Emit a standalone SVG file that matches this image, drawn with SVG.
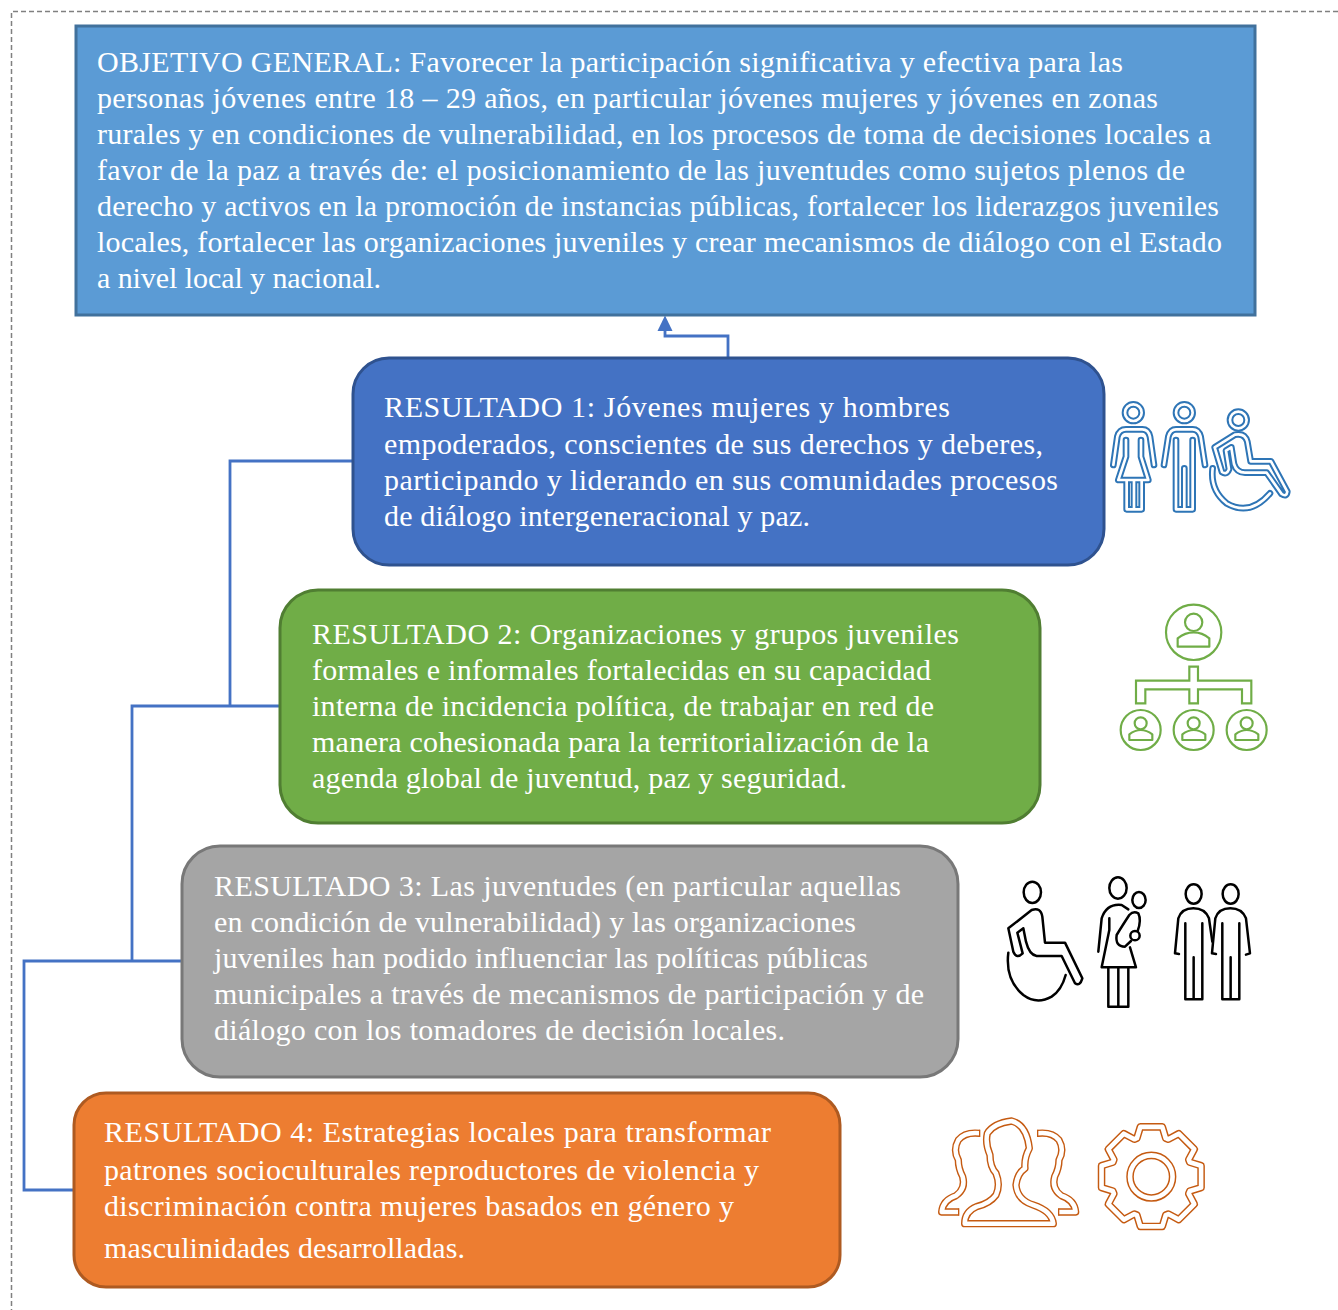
<svg xmlns="http://www.w3.org/2000/svg" width="1338" height="1310" viewBox="0 0 1338 1310">
<style>
.t{font-family:"Liberation Serif","Times New Roman",serif;font-size:30px;fill:#fff}
.box{stroke-width:3}
.conn{fill:none;stroke:#4472c4;stroke-width:2.8}
.i{fill:none;stroke-linecap:round;stroke-linejoin:round}
.bl .o{stroke:#2e75b6;stroke-width:20}
.bl .w{stroke:#fff;stroke-width:8}
.gr{stroke:#70ad47;stroke-width:6.5}
.bk{stroke:#000;stroke-width:7.5}
.or .o{stroke:#c55a11;stroke-width:22}
.or .w{stroke:#fff;stroke-width:13.5}
</style>
<defs>
<path id="woman" d="M70,225 L82,140 Q88,118 108,118 H157 Q175,118 180,140 L192,225 M108,150 V200 L85,270 H175 L153,200 V150 M110,270 V358 H155 V270 M132,270 V358"/>
<path id="man" d="M222,225 L235,140 Q241,118 258,118 H308 Q326,118 332,140 L345,225 M258,150 V358 H308 V150 M283,358 V235"/>
<path id="chair" d="M396,246 L374,172 L435,134 Q465,128 472,155 L482,214 H543 L592,305 Q590,322 575,312 L530,248 H465 Q440,248 432,222 L424,172 L408,182 L417,238 Q410,256 396,246 Z M368,235 Q360,300 410,340 Q480,380 540,310"/>
<path id="pC" d="M104,356 H370 Q365,318 310,300 Q262,285 258,240 Q262,205 285,190 Q282,160 298,130 Q290,60 245,48 Q190,55 172,85 Q165,115 180,150 Q180,185 198,205 Q212,240 198,270 Q180,295 140,305 Q104,320 104,356 Z"/>
<path id="pS" d="M149,85 Q105,80 85,105 Q68,135 85,165 Q85,190 98,215 Q108,250 78,272 Q38,285 35,321 H86"/>
<path id="gear" d="M-42,-112 L-32,-145 L32,-145 L42,-112 L49.5,-108.9 L79.9,-125.2 L125.2,-79.9 L108.9,-49.5 L112,-42 L145,-32 L145,32 L112,42 L108.9,49.5 L125.2,79.9 L79.9,125.2 L49.5,108.9 L42,112 L32,145 L-32,145 L-42,112 L-49.5,108.9 L-79.9,125.2 L-125.2,79.9 L-108.9,49.5 L-112,42 L-145,32 L-145,-32 L-112,-42 L-108.9,-49.5 L-125.2,-79.9 L-79.9,-125.2 L-49.5,-108.9 Z"/>
</defs>

<path d="M1338,11.5 H11.5 V1310" fill="none" stroke="#808080" stroke-width="1.5" stroke-dasharray="5 3"/>

<g id="connectors">
<path class="conn" d="M728,357 V336 H665 V328"/>
<path d="M665,315.5 L672.5,331 H657.5 Z" fill="#4472c4"/>
<path class="conn" d="M352,461 H230 V706"/>
<path class="conn" d="M279,706 H132 V961"/>
<path class="conn" d="M182,961 H24 V1190 H73"/>
</g>

<g id="objetivo">
<rect class="box" x="76" y="26" width="1179" height="289" fill="#5b9bd5" stroke="#41719c"/>
<text class="t" x="97" y="72" textLength="1026">OBJETIVO GENERAL: Favorecer la participación significativa y efectiva para las</text>
<text class="t" x="97" y="108" textLength="1061">personas jóvenes entre 18 – 29 años, en particular jóvenes mujeres y jóvenes en zonas</text>
<text class="t" x="97" y="144" textLength="1114">rurales y en condiciones de vulnerabilidad, en los procesos de toma de decisiones locales a</text>
<text class="t" x="97" y="180" textLength="1088">favor de la paz a través de: el posicionamiento de las juventudes como sujetos plenos de</text>
<text class="t" x="97" y="216" textLength="1122">derecho y activos en la promoción de instancias públicas, fortalecer los liderazgos juveniles</text>
<text class="t" x="97" y="252" textLength="1125">locales, fortalecer las organizaciones juveniles y crear mecanismos de diálogo con el Estado</text>
<text class="t" x="97" y="288" textLength="284">a nivel local y nacional.</text>
</g>

<g id="resultado1">
<rect class="box" x="353" y="358" width="751" height="207" rx="36" fill="#4472c4" stroke="#2f528f"/>
<text class="t" x="384" y="417" textLength="566">RESULTADO 1: Jóvenes mujeres y hombres</text>
<text class="t" x="384" y="454" textLength="659">empoderados, conscientes de sus derechos y deberes,</text>
<text class="t" x="384" y="490" textLength="674">participando y liderando en sus comunidades procesos</text>
<text class="t" x="384" y="526" textLength="426">de diálogo intergeneracional y paz.</text>
</g>

<g id="resultado2">
<rect class="box" x="280" y="590" width="760" height="233" rx="38" fill="#70ad47" stroke="#507e32"/>
<text class="t" x="312" y="644" textLength="647">RESULTADO 2: Organizaciones y grupos juveniles</text>
<text class="t" x="312" y="680" textLength="619">formales e informales fortalecidas en su capacidad</text>
<text class="t" x="312" y="716" textLength="622">interna de incidencia política, de trabajar en red de</text>
<text class="t" x="312" y="752" textLength="617">manera cohesionada para la territorialización de la</text>
<text class="t" x="312" y="788" textLength="535">agenda global de juventud, paz y seguridad.</text>
</g>

<g id="resultado3">
<rect class="box" x="182" y="846" width="776" height="231" rx="38" fill="#a5a5a5" stroke="#787878"/>
<text class="t" x="214" y="896" textLength="687">RESULTADO 3: Las juventudes (en particular aquellas</text>
<text class="t" x="214" y="932" textLength="642">en condición de vulnerabilidad) y las organizaciones</text>
<text class="t" x="214" y="968" textLength="654">juveniles han podido influenciar las políticas públicas</text>
<text class="t" x="214" y="1004" textLength="710">municipales a través de mecanismos de participación y de</text>
<text class="t" x="214" y="1040" textLength="571">diálogo con los tomadores de decisión locales.</text>
</g>

<g id="resultado4">
<rect class="box" x="74" y="1093" width="766" height="194" rx="32" fill="#ed7d31" stroke="#ae5a21"/>
<text class="t" x="104" y="1142" textLength="667">RESULTADO 4: Estrategias locales para transformar</text>
<text class="t" x="104" y="1180" textLength="655">patrones socioculturales reproductores de violencia y</text>
<text class="t" x="104" y="1216" textLength="630">discriminación contra mujeres basados en género y</text>
<text class="t" x="104" y="1258" textLength="361">masculinidades desarrolladas.</text>
</g>

<g id="icono1" class="i bl" transform="translate(1090,390) scale(.3333)">
<circle class="o" cx="130" cy="68" r="25"/><circle class="w" cx="130" cy="68" r="25"/>
<circle class="o" cx="283" cy="68" r="25"/><circle class="w" cx="283" cy="68" r="25"/>
<circle class="o" cx="445" cy="90" r="25"/><circle class="w" cx="445" cy="90" r="25"/>
<use class="o" href="#woman"/><use class="w" href="#woman"/>
<use class="o" href="#man"/><use class="w" href="#man"/>
<use class="o" href="#chair"/><use class="w" href="#chair"/>
</g>

<g id="icono2" class="i gr" transform="translate(1110,595) scale(.3333)">
<circle cx="251" cy="112" r="83"/>
<circle cx="251" cy="82" r="26"/>
<path d="M203,155 V130 Q225,112 251,112 Q277,112 298,130 V155 Z"/>
<path stroke-linejoin="miter" d="M238,215 H264 V257 H424 V325 H396 V283 H264 V325 H238 V283 H106 V325 H78 V257 H238 Z"/>
<circle cx="92" cy="405" r="60"/><circle cx="251" cy="405" r="60"/><circle cx="410" cy="405" r="60"/>
<circle cx="92" cy="385" r="18"/><circle cx="251" cy="385" r="18"/><circle cx="410" cy="385" r="18"/>
<path d="M58,435 V418 Q75,405 92,405 Q110,405 127,418 V435 Z"/>
<path d="M217,435 V418 Q234,405 251,405 Q269,405 286,418 V435 Z"/>
<path d="M376,435 V418 Q393,405 410,405 Q428,405 445,418 V435 Z"/>
</g>

<g id="icono3" class="i bk" transform="translate(1000,870) scale(.3333)">
<ellipse cx="97" cy="67" rx="26" ry="32"/>
<path d="M40,245 L25,175 L95,120 Q122,110 127,140 L135,218 H195 L247,325 Q240,350 225,340 L185,258 H110 Q88,255 78,215 L70,175 L52,188 L68,250 Q50,268 40,245 Z"/>
<path d="M25,248 Q15,330 70,375 Q110,405 155,380 Q185,360 197,315"/>
<ellipse cx="354" cy="54" rx="26" ry="32"/>
<ellipse cx="417" cy="90" rx="20" ry="24"/>
<path d="M295,245 L305,145 Q320,100 365,105 L385,118 M328,145 V180 L305,292 H408 L390,232"/>
<path d="M388,135 Q400,122 415,130 Q425,150 413,183 M388,135 Q365,170 350,195 Q345,230 375,230 L393,213"/>
<circle cx="405" cy="197" r="14"/>
<path d="M325,292 V410 H385 V292 M355,292 V410"/>
<ellipse cx="581" cy="72" rx="24" ry="29"/>
<path d="M537,252 L525,250 L535,145 Q545,115 580,115 Q615,115 627,145 L637,215 M556,160 V388 H607 V160 M581,262 V388"/>
<ellipse cx="692" cy="72" rx="24" ry="29"/>
<path d="M648,252 L636,250 L646,145 Q656,115 691,115 Q726,115 738,145 L750,250 L738,254 M667,160 V388 H718 V160 M692,262 V388"/>
</g>

<g id="icono4" class="i or" transform="translate(930,1105) scale(.3333)">
<use class="o" href="#pC"/><use class="w" href="#pC"/>
<g stroke-linecap="butt"><use class="o" stroke-linecap="butt" href="#pS"/><use class="w" stroke-linecap="butt" href="#pS"/><path d="M86,310 V332 M149,74 L149,96" stroke="#c55a11" stroke-width="4"/></g>
<g transform="matrix(-1 0 0 1 472 0)" stroke-linecap="butt"><use class="o" stroke-linecap="butt" href="#pS"/><use class="w" stroke-linecap="butt" href="#pS"/><path d="M86,310 V332 M149,74 L149,96" stroke="#c55a11" stroke-width="4"/></g>
<g transform="translate(664,215) scale(1.03)">
<use class="o" href="#gear"/><use class="w" href="#gear"/>
<circle class="o" r="62"/><circle class="w" r="62"/>
</g>
</g>
</svg>
